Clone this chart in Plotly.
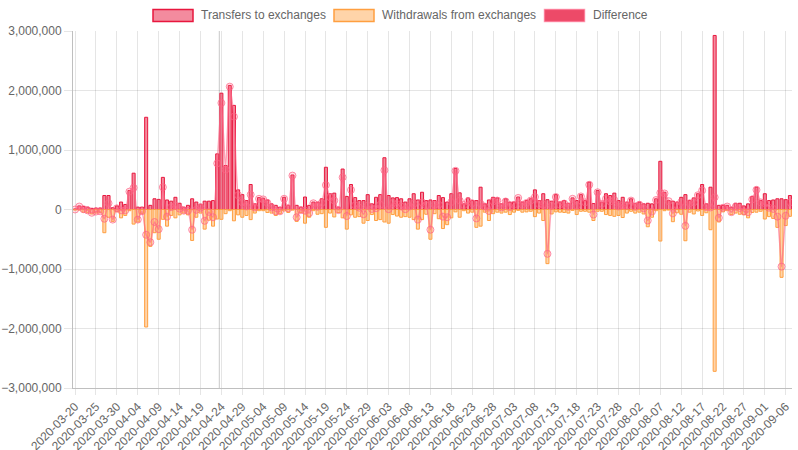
import pandas as pd
import plotly.graph_objects as go

start_date = "2020-03-20"
n_days = 172
dates = [d.strftime("%Y-%m-%d") for d in pd.date_range(start_date, periods=n_days, freq="D")]
tick_labels = dates[::5]

# values in thousands
transfers_k = [
    10, 60, 50, 40, 20, 25, 25, 235, 235, 30,
    60, 125, 85, 320, 610, 40, 40, 1550, 70, 180,
    170, 540, 160, 140, 205, 105, 40, 70, 180, 125,
    90, 140, 140, 150, 935, 1955, 740, 2085, 1750, 330,
    250, 150, 420, 95, 200, 190, 160, 95, 70, 40,
    205, 70, 580, 70, 40, 210, 70, 125, 125, 180,
    710, 265, 275, 40, 680, 220, 420, 200, 150, 150,
    250, 95, 205, 250, 870, 235, 195, 200, 180, 125,
    180, 265, 160, 290, 150, 160, 150, 235, 200, 125,
    265, 690, 280, 95, 195, 150, 150, 375, 95, 160,
    205, 195, 95, 180, 125, 125, 210, 125, 150, 180,
    330, 150, 265, 165, 140, 250, 125, 150, 105, 195,
    150, 250, 150, 460, 100, 320, 125, 265, 235, 275,
    150, 205, 125, 180, 105, 125, 95, 105, 95, 180,
    810, 290, 150, 140, 125, 205, 250, 150, 195, 265,
    420, 95, 375, 2925, 70, 70, 70, 40, 105, 105,
    60, 95, 220, 375, 150, 265, 150, 160, 180, 180,
    165, 235,
]
withdrawals_k = [
    -10, -10, -45, -55, -75, -60, -55, -390, -130, -200,
    -40, -140, -100, -20, -245, -210, -70, -1975, -620, -390,
    -500, -165, -280, -100, -140, -90, -60, -90, -520, -130,
    -60, -330, -180, -280, -160, -165, -70, -20, -190, -90,
    -130, -100, -170, -60, -20, -20, -50, -60, -100, -70,
    -25, -50, -10, -200, -50, -230, -130, -20, -80, -70,
    -300, -60, -125, -50, -140, -330, -90, -130, -120, -230,
    -185, -85, -185, -170, -210, -230, -85, -110, -130, -120,
    -130, -170, -330, -170, -80, -500, -70, -155, -320, -255,
    -140, -40, -130, -20, -60, -45, -300, -280, -45, -185,
    -70, -45, -60, -45, -85, -45, -15, -45, -40, -30,
    -120, -60, -185, -910, -75, -40, -45, -50, -60, -15,
    -85, -30, -30, -45, -185, -30, -30, -85, -100, -115,
    -100, -135, -60, -30, -60, -45, -75, -290, -130, -20,
    -530, -20, -10, -205, -55, -80, -525, -45, -75, -25,
    -100, -55, -340, -2720, -210, -40, -20, -85, -60, -80,
    -90, -140, -50, -45, -30, -160, -120, -150, -300, -1140,
    -270, -115,
]
difference_k = [
    0, 50, 5, -15, -55, -35, -30, -155, 105, -170,
    20, -15, -15, 300, 365, -170, -30, -425, -550, -210,
    -330, 375, -120, 40, 65, 15, -20, -20, -340, -5,
    30, -190, -40, -130, 775, 1790, 670, 2065, 1560, 240,
    120, 50, 250, 35, 180, 170, 110, 35, -30, -30,
    180, 20, 570, -130, -10, -20, -60, 105, 45, 110,
    410, 205, 150, -10, 540, -110, 330, 70, 30, -80,
    65, 10, 20, 80, 660, 5, 110, 90, 50, 5,
    50, 95, -170, 120, 70, -340, 80, 80, -120, -130,
    125, 650, 150, 75, 135, 105, -150, 95, 50, -25,
    135, 150, 35, 135, 40, 80, 195, 80, 110, 150,
    210, 90, 80, -745, 65, 210, 80, 100, 45, 180,
    65, 220, 120, 415, -85, 290, 95, 180, 135, 160,
    50, 70, 65, 150, 45, 80, 20, -185, -35, 160,
    280, 270, 140, -65, 70, 125, -275, 105, 120, 240,
    320, 40, 35, 205, -140, 30, 50, -45, 45, 25,
    -30, -45, 170, 330, 120, 105, 30, 10, -120, -960,
    -105, 120,
]

transfers = [v * 1000 for v in transfers_k]
withdrawals = [v * 1000 for v in withdrawals_k]
difference = [v * 1000 for v in difference_k]

series_names = ["Transfers to exchanges", "Withdrawals from exchanges", "Difference"]

RED = "rgb(232,23,62)"
RED_FILL = "rgba(232,23,62,0.5)"
ORANGE = "rgb(255,159,64)"
ORANGE_FILL = "rgba(255,159,64,0.45)"
PINK_LINE = "rgba(255,99,132,0.6)"

fig = go.Figure()
fig.add_trace(go.Bar(
    x=dates, y=transfers, name=series_names[0], width=0.72,
    marker=dict(color=RED_FILL, line=dict(color=RED, width=1)),
))
fig.add_trace(go.Bar(
    x=dates, y=withdrawals, name=series_names[1], width=0.72,
    marker=dict(color=ORANGE_FILL, line=dict(color=ORANGE, width=1)),
))
fig.add_trace(go.Scatter(
    x=dates, y=difference, name=series_names[2], mode="lines+markers",
    line=dict(color=PINK_LINE, width=1.5, shape="spline", smoothing=0.5),
    marker=dict(symbol="circle", size=7, color="rgba(255,99,132,0.2)",
                line=dict(color="rgba(255,99,132,0.7)", width=1)),
))

# Chart.js-like legend drawn in paper coordinates
L, R, T, B = 73, 792, 31, 388
W_, H_ = R - L, B - T
def px(xp):
    return (xp - L) / W_
def py(yp):
    return (B - yp) / H_

legend_items = [
    (153, 199, series_names[0], RED_FILL, RED),
    (334, 380, series_names[1], ORANGE_FILL, ORANGE),
    (544.5, 590.5, series_names[2], "rgba(232,23,62,0.78)", "rgba(255,99,132,0.6)"),
]
shapes = []
annotations = []
for bx, tx, label, fill, border in legend_items:
    shapes.append(dict(type="rect", xref="paper", yref="paper",
                       x0=px(bx), x1=px(bx + 40), y0=py(21.5), y1=py(9.5),
                       fillcolor=fill, line=dict(color=border, width=1.5), layer="above"))
    annotations.append(dict(xref="paper", yref="paper", x=px(tx), y=py(15.5),
                            text=label, showarrow=False, xanchor="left", yanchor="middle",
                            font=dict(family="Liberation Sans, Arial, sans-serif", size=12, color="#666")))

# darker vertical guide line
shapes.append(dict(type="line", xref="x", yref="paper", x0=34.5, x1=34.5, y0=0, y1=1,
                   line=dict(color="rgba(0,0,0,0.22)", width=1), layer="below"))

fig.update_layout(
    width=798, height=450,
    margin=dict(l=L, r=798 - R, t=T, b=450 - B, autoexpand=False),
    paper_bgcolor="white", plot_bgcolor="white",
    barmode="relative", bargap=0.28,
    showlegend=False, hovermode=False,
    shapes=shapes, annotations=annotations,
    font=dict(family="Liberation Sans, Arial, sans-serif", size=12, color="#666"),
)
fig.update_xaxes(
    type="category", range=[-0.5, n_days - 0.5], automargin=False,
    tickmode="array", tickvals=tick_labels, ticktext=tick_labels,
    tickangle=-45, showgrid=True, gridcolor="rgba(0,0,0,0.1)", gridwidth=1,
    ticks="outside", ticklen=6, tickcolor="rgba(0,0,0,0.1)",
    showline=True, linecolor="rgba(0,0,0,0.25)", linewidth=1,
    tickfont=dict(size=12, color="#666"), zeroline=False,
)
fig.update_yaxes(
    range=[-3000000, 3000000], dtick=1000000, tickformat=",d", automargin=False,
    showgrid=True, gridcolor="rgba(0,0,0,0.1)", gridwidth=1,
    ticks="outside", ticklen=8, tickcolor="rgba(0,0,0,0.1)",
    showline=True, linecolor="rgba(0,0,0,0.25)", linewidth=1,
    zeroline=True, zerolinecolor="rgba(0,0,0,0.1)", zerolinewidth=1,
    tickfont=dict(size=12, color="#666"),
)

fig.write_html(
    "out.html",
    config={"displayModeBar": False},
    post_script="document.body.style.margin='0';document.body.style.padding='0';document.body.style.overflow='hidden';",
)
